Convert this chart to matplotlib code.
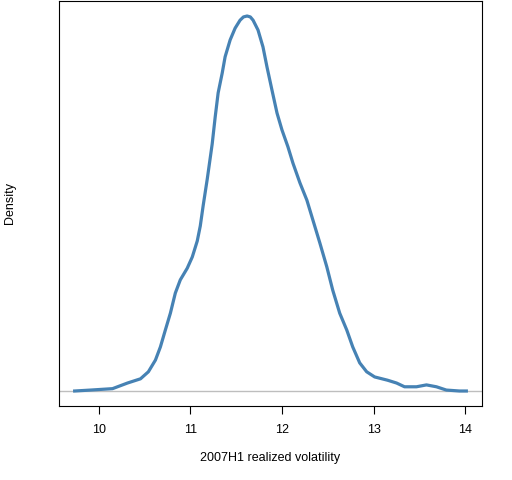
import matplotlib
matplotlib.use("Agg")
import matplotlib.pyplot as plt
import numpy as np

# density estimate, x = realized volatility
vol = [9.739, 9.913, 10.152, 10.315, 10.457, 10.543, 10.620, 10.674, 10.728,
       10.783, 10.837, 10.891, 10.967, 11.022, 11.076, 11.109, 11.141, 11.185,
       11.239, 11.272, 11.304, 11.348, 11.380, 11.435, 11.489, 11.543, 11.580,
       11.620, 11.655, 11.685, 11.739, 11.793, 11.837, 11.891, 11.946, 12.000,
       12.065, 12.120, 12.196, 12.272, 12.337, 12.413, 12.489, 12.554, 12.630,
       12.707, 12.772, 12.848, 12.924, 13.011, 13.152, 13.250, 13.337, 13.467,
       13.576, 13.685, 13.793, 13.935, 14.011]
density = [0.000, 0.002, 0.005, 0.017, 0.026, 0.041, 0.066, 0.094, 0.130,
           0.166, 0.209, 0.237, 0.262, 0.286, 0.320, 0.352, 0.396, 0.452,
           0.527, 0.585, 0.636, 0.678, 0.713, 0.749, 0.774, 0.791, 0.798,
           0.800, 0.798, 0.791, 0.770, 0.734, 0.691, 0.642, 0.593, 0.557,
           0.521, 0.486, 0.444, 0.407, 0.365, 0.316, 0.265, 0.215, 0.166,
           0.130, 0.094, 0.060, 0.041, 0.030, 0.023, 0.017, 0.009, 0.009,
           0.013, 0.009, 0.002, 0.000, 0.000]
xticks = [10, 11, 12, 13, 14]

plt.rcParams['font.family'] = ['Liberation Sans', 'DejaVu Sans']

fig = plt.figure(figsize=(5.12, 4.8), dpi=100)
ax = fig.add_axes([59 / 512, 74 / 480, 423 / 512, 405 / 480])

ax.axhline(0, color='#BEBEBE', lw=1)
ax.plot(vol, density, color='#4682B4', lw=2.3, solid_joinstyle='round')

xr = max(vol) - min(vol)
ax.set_xlim(min(vol) - 0.04 * xr, max(vol) + 0.04 * xr)
yr = max(density)
ax.set_ylim(-0.04 * yr, yr * 1.04)

ax.set_xticks(xticks)
ax.set_xticklabels([str(t) for t in xticks])
ax.set_yticks([])
ax.tick_params(axis='x', length=6, width=0.8, pad=7, labelsize=9)
for s in ax.spines.values():
    s.set_linewidth(0.8)
    s.set_color('black')

fig.text(270.5 / 512, 1 - 458 / 480, '2007H1 realized volatility',
         ha='center', va='center', fontsize=9)
fig.text(10 / 512, 1 - 203 / 480, 'Density', rotation=90,
         ha='center', va='center', fontsize=9)

fig.savefig('out.png', dpi=100)
